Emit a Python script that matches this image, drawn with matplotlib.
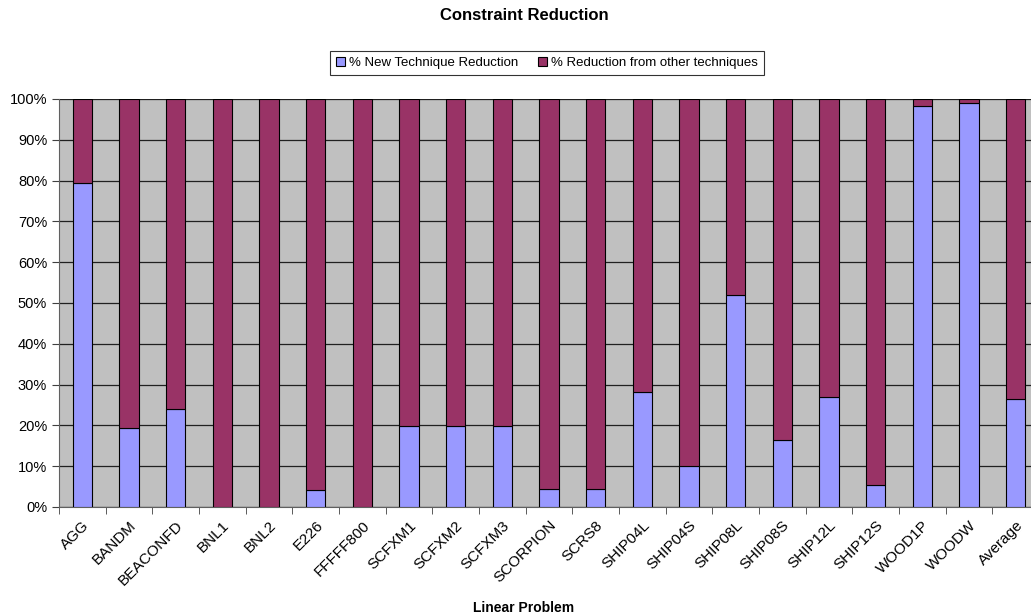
import numpy as np
import matplotlib.pyplot as plt

plt.rcParams['font.family'] = ['Liberation Sans', 'DejaVu Sans']

problems = ['AGG', 'BANDM', 'BEACONFD', 'BNL1', 'BNL2', 'E226', 'FFFFF800',
            'SCFXM1', 'SCFXM2', 'SCFXM3', 'SCORPION', 'SCRS8', 'SHIP04L',
            'SHIP04S', 'SHIP08L', 'SHIP08S', 'SHIP12L', 'SHIP12S', 'WOOD1P',
            'WOODW', 'Average']
new_technique = [79.4, 19.4, 24.1, 0.0, 0.0, 4.2, 0.0,
                 19.8, 19.8, 19.8, 4.3, 4.5, 28.1,
                 10.0, 51.9, 16.3, 27.0, 5.3, 98.4,
                 98.9, 26.5]
other_techniques = [100 - v for v in new_technique]

fig = plt.figure(figsize=(10.31, 6.14), dpi=100)
ax = fig.add_axes([59 / 1031, 1 - 507 / 614, 980 / 1031, 408 / 614])
ax.set_facecolor('#C0C0C0')

x = np.arange(len(problems))
ax.bar(x, new_technique, width=0.41, color='#9999FF', edgecolor='black',
       linewidth=0.8, label='% New Technique Reduction', zorder=3)
ax.bar(x, other_techniques, width=0.41, bottom=new_technique, color='#993366',
       edgecolor='black', linewidth=0.8, label='% Reduction from other techniques',
       zorder=3)

ax.set_xlim(-0.5, len(problems) - 0.5)
ax.set_ylim(0, 100)
ax.set_yticks(np.arange(0, 101, 10))
ax.set_yticklabels(['%d%%' % v for v in range(0, 101, 10)], fontsize=10.5)
ax.yaxis.grid(True, color='#202020', linewidth=0.9, zorder=1)
ax.set_axisbelow(True)

ax.set_xticks(x)
ax.set_xticklabels(problems, rotation=45, ha='right', rotation_mode='anchor',
                   fontsize=11)
ax.tick_params(axis='x', length=0, pad=8)
ax.set_xticks(np.arange(len(problems) + 1) - 0.5, minor=True)
ax.tick_params(axis='x', which='minor', length=5, direction='out', color='#404040')
ax.tick_params(axis='y', length=5, direction='out', color='#404040')

for side in ['top', 'right']:
    ax.spines[side].set_visible(False)
ax.spines['left'].set_color('#606060')
ax.spines['bottom'].set_color('#606060')

ax.set_xlabel('Linear Problem', fontsize=10, fontweight='bold')
ax.xaxis.set_label_coords((524 - 59) / 980, -(601 - 507) / 408)

fig.text(524 / 1031, 1 - 15 / 614, 'Constraint Reduction', ha='center', va='center',
         fontsize=12, fontweight='bold')

leg = fig.legend(loc='center', bbox_to_anchor=(547 / 1031, 1 - 63 / 614), ncol=2,
                 fontsize=9.5, frameon=True, fancybox=False, edgecolor='black',
                 handlelength=0.7, handleheight=0.7, handletextpad=0.3,
                 columnspacing=1.5, borderpad=0.45)
leg.get_frame().set_linewidth(0.8)

fig.savefig('out.png', dpi=100)
